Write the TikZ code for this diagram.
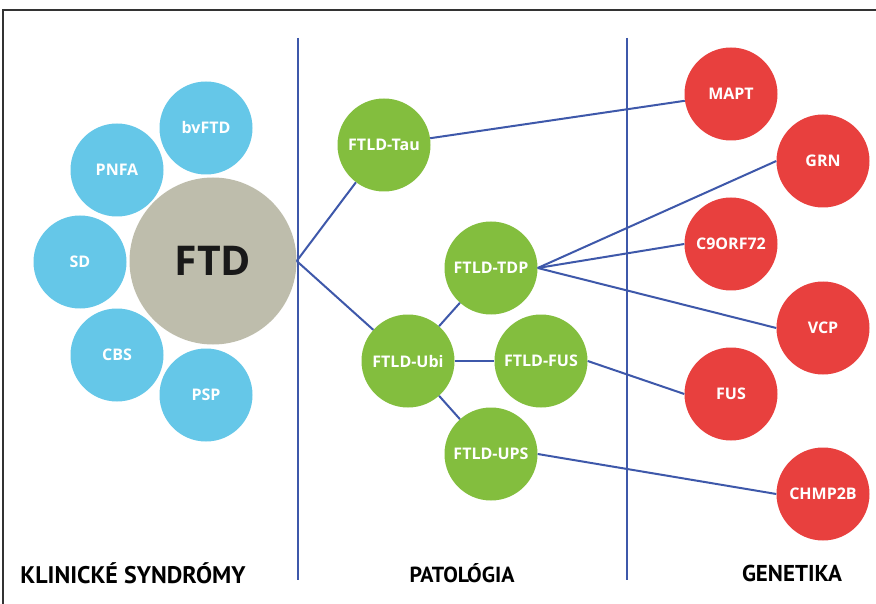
\documentclass[tikz,border=0pt]{standalone}
\usepackage{fontspec}
\setmainfont{Open Sans}
\newfontfamily\labfont{PT Sans}
\begin{document}
\begin{tikzpicture}[x=1pt,y=-1pt,
  circ/.style={circle,inner sep=0pt,minimum size=93pt,text=white,font=\bfseries\fontsize{16}{18}\selectfont},
  clin/.style={circ,fill=clinblue},
  path/.style={circ,fill=patgreen},
  gen/.style={circ,fill=genred},
  conn/.style={draw=lineblue,line width=2pt},
  sep/.style={draw=lineblue,line width=1.3pt},
  head/.style={font=\labfont\bfseries\fontsize{19}{22}\selectfont,text=black}]
\definecolor{clinblue}{RGB}{101,199,232}
\definecolor{ftdgray}{RGB}{190,189,172}
\definecolor{patgreen}{RGB}{131,190,62}
\definecolor{genred}{RGB}{232,64,62}
\definecolor{lineblue}{RGB}{62,88,170}
\useasboundingbox (0,0) rectangle (876,604);
\fill[white] (0,0) rectangle (876,604);
\draw[line width=1.4pt,draw=black!80] (3,604) -- (3,10) -- (876,10);
% separators
\coordinate (s1t) at (298,38); \coordinate (s1b) at (298,580);
\coordinate (s2t) at (627,38); \coordinate (s2b) at (627,580);
\draw[sep] (s1t) -- (s1b);
\draw[sep] (s2t) -- (s2b);
% clinical
\node[clin] (bvftd) at (206,128) {bvFTD};
\node[clin] (pnfa) at (117,170) {PNFA};
\node[clin] (sd) at (80,262) {SD};
\node[clin] (cbs) at (117,355) {CBS};
\node[clin] (psp) at (206,395) {PSP};
\node[circle,fill=ftdgray,minimum size=167pt,inner sep=0pt,font=\bfseries\fontsize{41}{44}\selectfont,text=black!90] (ftd) at (213,261) {FTD};
% pathology
\node[path] (tau) at (384,145) {FTLD-Tau};
\node[path] (tdp) at (491,268) {FTLD-TDP};
\node[path] (ubi) at (408,361) {FTLD-Ubi};
\node[path] (fusp) at (541,361) {FTLD-FUS};
\node[path] (ups) at (491,454) {FTLD-UPS};
% genetics
\node[gen] (mapt) at (731,94) {MAPT};
\node[gen] (grn) at (823,161) {GRN};
\node[gen] (c9) at (731,244) {C9ORF72};
\node[gen] (vcp) at (823,328) {VCP};
\node[gen] (fusg) at (731,394) {FUS};
\node[gen] (chmp) at (823,494) {CHMP2B};
% connectors
\draw[conn] (ftd.east) -- (tau);
\draw[conn] (ftd.east) -- (ubi);
\draw[conn] (tau) -- (mapt);
\draw[conn] (tdp.east) -- (grn.west);
\draw[conn] (tdp.east) -- (c9.west);
\draw[conn] (tdp.east) -- (vcp.west);
\draw[conn] (ubi) -- (tdp);
\draw[conn] (ubi) -- (fusp);
\draw[conn] (ubi) -- (ups);
\draw[conn] (fusp.east) -- (fusg.west);
\draw[conn] (ups.east) -- (chmp.west);
% headings
\node[head] (h1) at (133,573) {\resizebox{225pt}{!}{KLINICKÉ SYNDRÓMY}};
\node[head] (h2) at (462,573) {\resizebox{105pt}{!}{PATOLÓGIA}};
\node[head] (h3) at (792,573) {\resizebox{100pt}{!}{GENETIKA}};
\end{tikzpicture}
\end{document}
